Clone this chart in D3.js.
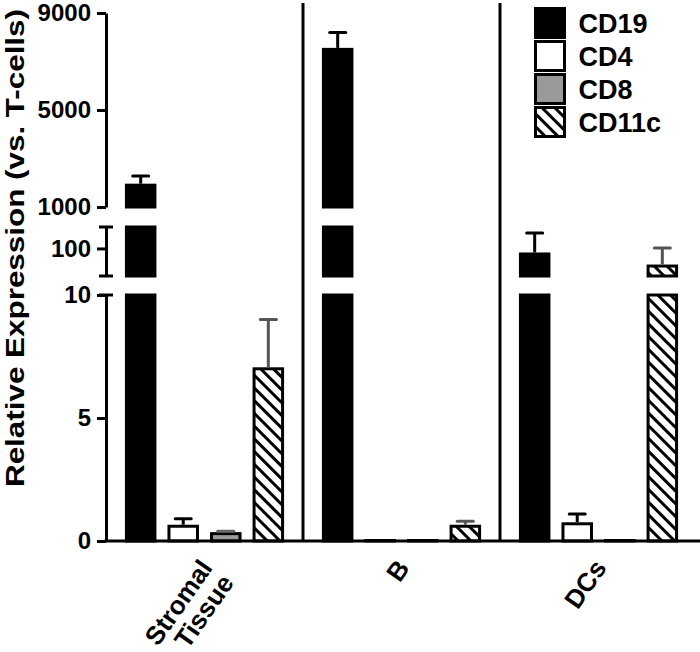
<!DOCTYPE html>
<html>
<head>
<meta charset="utf-8">
<script src="https://cdn.jsdelivr.net/npm/d3@7"></script>
<style>
body { margin: 0; background: #fff; }
text { font-family: "Liberation Sans", Arial, sans-serif; font-weight: bold; fill: #000; }
</style>
</head>
<body>
<div id="chart"></div>
<script>
// values (means and upper SEM)
var groups = ['Stromal Tissue', 'B', 'DCs'];
var series = ['CD19', 'CD4', 'CD8', 'CD11c'];
var cd19 = [1900, 7500, 63];
var cd19Err = [380, 700, 300];
var cd4 = [0.6, 0.02, 0.7];
var cd4Err = [0.3, 0, 0.4];
var cd8 = [0.3, 0.02, 0.02];
var cd8Err = [0.1, 0, 0];
var cd11c = [7.0, 0.6, 23];
var cd11cErr = [2.0, 0.2, 80];
var lowTicks = [0, 5, 10];
var midTicks = [100];
var highTicks = [1000, 5000, 9000];

var values = { CD19: cd19, CD4: cd4, CD8: cd8, CD11c: cd11c };
var errors = { CD19: cd19Err, CD4: cd4Err, CD8: cd8Err, CD11c: cd11cErr };
var fills = { CD19: '#000', CD4: '#fff', CD8: '#999', CD11c: 'url(#hatch)' };
var errColors = { CD19: '#000', CD4: '#000', CD8: '#666', CD11c: '#555' };

var width = 700, height = 652;
var axisX = 106;

var svg = d3.select('#chart').append('svg')
    .attr('width', width)
    .attr('height', height);

var pat = svg.append('defs').append('pattern')
    .attr('id', 'hatch')
    .attr('patternUnits', 'userSpaceOnUse')
    .attr('width', 9).attr('height', 9)
    .attr('patternTransform', 'rotate(-45)');
pat.append('rect').attr('width', 9).attr('height', 9).attr('fill', '#fff');
pat.append('line').attr('x1', 4.5).attr('x2', 4.5).attr('y1', 0).attr('y2', 9)
    .attr('stroke', '#000').attr('stroke-width', 3);

// three y segments: broken axis
var yLow = d3.scaleLinear().domain([0, 10]).range([541, 295]);
var yMid = d3.scaleLog().domain([10, 600]).range([276, 227]);
var yHigh = d3.scaleLinear().domain([1000, 9000]).range([207, 13]);
var segments = [
    { y: yLow, lo: 0, hi: 10 },
    { y: yMid, lo: 10, hi: 600 },
    { y: yHigh, lo: 1000, hi: 9000 }
];

var x0 = d3.scaleBand().domain(groups).range([axisX, 697]);
var x1 = d3.scaleBand().domain(series).range([0, x0.bandwidth()])
    .paddingInner(0.33).paddingOuter(0.48);

// group separators
svg.selectAll('line.sep').data(groups.slice(1)).enter().append('line')
    .attr('class', 'sep')
    .attr('x1', function(d) { return x0(d); })
    .attr('x2', function(d) { return x0(d); })
    .attr('y1', 3).attr('y2', 541)
    .attr('stroke', '#000').attr('stroke-width', 3);

// bars, cut into pieces per segment
var pieces = [];
var errs = [];
groups.forEach(function(g, gi) {
    series.forEach(function(s) {
        var v = values[s][gi], e = errors[s][gi];
        segments.forEach(function(seg) {
            if (v > seg.lo) {
                pieces.push({ g: g, s: s, y0: seg.y(seg.lo), y1: seg.y(Math.min(v, seg.hi)) });
            }
            if (e > 0 && v > seg.lo && v <= seg.hi) {
                errs.push({ g: g, s: s, y0: seg.y(v), y1: seg.y(v + e) });
            }
        });
    });
});

svg.selectAll('rect.bar').data(pieces).enter().append('rect')
    .attr('class', 'bar')
    .attr('x', function(d) { return x0(d.g) + x1(d.s); })
    .attr('width', x1.bandwidth())
    .attr('y', function(d) { return d.y1; })
    .attr('height', function(d) { return d.y0 - d.y1; })
    .attr('fill', function(d) { return fills[d.s]; })
    .attr('stroke', '#000')
    .attr('stroke-width', 3);

var eg = svg.selectAll('g.err').data(errs).enter().append('g')
    .attr('class', 'err')
    .attr('stroke', function(d) { return errColors[d.s]; })
    .attr('stroke-width', 3);
eg.append('line')
    .attr('x1', function(d) { return x0(d.g) + x1(d.s) + x1.bandwidth() / 2; })
    .attr('x2', function(d) { return x0(d.g) + x1(d.s) + x1.bandwidth() / 2; })
    .attr('y1', function(d) { return d.y0 - 1.5; })
    .attr('y2', function(d) { return d.y1; });
eg.append('line')
    .attr('stroke-linecap', 'round')
    .attr('x1', function(d) { return x0(d.g) + x1(d.s) + x1.bandwidth() / 2 - 8; })
    .attr('x2', function(d) { return x0(d.g) + x1(d.s) + x1.bandwidth() / 2 + 8; })
    .attr('y1', function(d) { return d.y1; })
    .attr('y2', function(d) { return d.y1; });

// x axis
svg.append('line')
    .attr('x1', axisX - 1.5).attr('x2', width)
    .attr('y1', 541).attr('y2', 541)
    .attr('stroke', '#000').attr('stroke-width', 3);

svg.selectAll('text.xlab').data(groups).enter().append('text')
    .attr('class', 'xlab')
    .attr('text-anchor', 'end')
    .attr('font-size', 26)
    .attr('transform', function(d) {
        return 'translate(' + (x0(d) + x0.bandwidth() / 2 + 9) + ',568) rotate(-55)';
    })
    .each(function(d) {
        var words = d.split(' ');
        var t = d3.select(this);
        words.forEach(function(w, i) {
            t.append('tspan').attr('x', 0).attr('dy', i ? '1.0em' : 0).text(w);
        });
    });

// y axes, one per segment
function drawAxis(scale, ticks) {
    var g = svg.append('g')
        .attr('transform', 'translate(' + axisX + ',0)')
        .call(d3.axisLeft(scale).tickValues(ticks).tickSize(9).tickSizeOuter(0)
            .tickPadding(6).tickFormat(d3.format('d')));
    g.select('.domain').attr('stroke-width', 3);
    g.selectAll('.tick line').attr('stroke-width', 3);
    g.selectAll('.tick text').attr('font-size', 24).attr('font-family', null);
    return g;
}
drawAxis(yLow, lowTicks);
drawAxis(yMid, midTicks);
drawAxis(yHigh, highTicks);

// break caps
var caps = [yLow(10), yMid.range()[0], yMid.range()[1]];
svg.selectAll('line.cap').data(caps).enter().append('line')
    .attr('class', 'cap')
    .attr('x1', axisX - 7).attr('x2', axisX + 7)
    .attr('y1', function(d) { return d; }).attr('y2', function(d) { return d; })
    .attr('stroke', '#000').attr('stroke-width', 3);

svg.append('text')
    .attr('transform', 'translate(24,248) rotate(-90)')
    .attr('text-anchor', 'middle')
    .attr('font-size', 25)
    .attr('textLength', 478)
    .attr('lengthAdjust', 'spacingAndGlyphs')
    .text('Relative Expression (vs. T-cells)');

// legend
var leg = svg.selectAll('g.leg').data(series).enter().append('g')
    .attr('class', 'leg')
    .attr('transform', function(d, i) { return 'translate(535.5,' + (8.5 + i * 33) + ')'; });
leg.append('rect')
    .attr('width', 29).attr('height', 29)
    .attr('fill', function(d) { return fills[d]; })
    .attr('stroke', '#000').attr('stroke-width', 3);
leg.append('text')
    .attr('x', 43).attr('y', 24)
    .attr('font-size', 27)
    .text(function(d) { return d; });
</script>
</body>
</html>
